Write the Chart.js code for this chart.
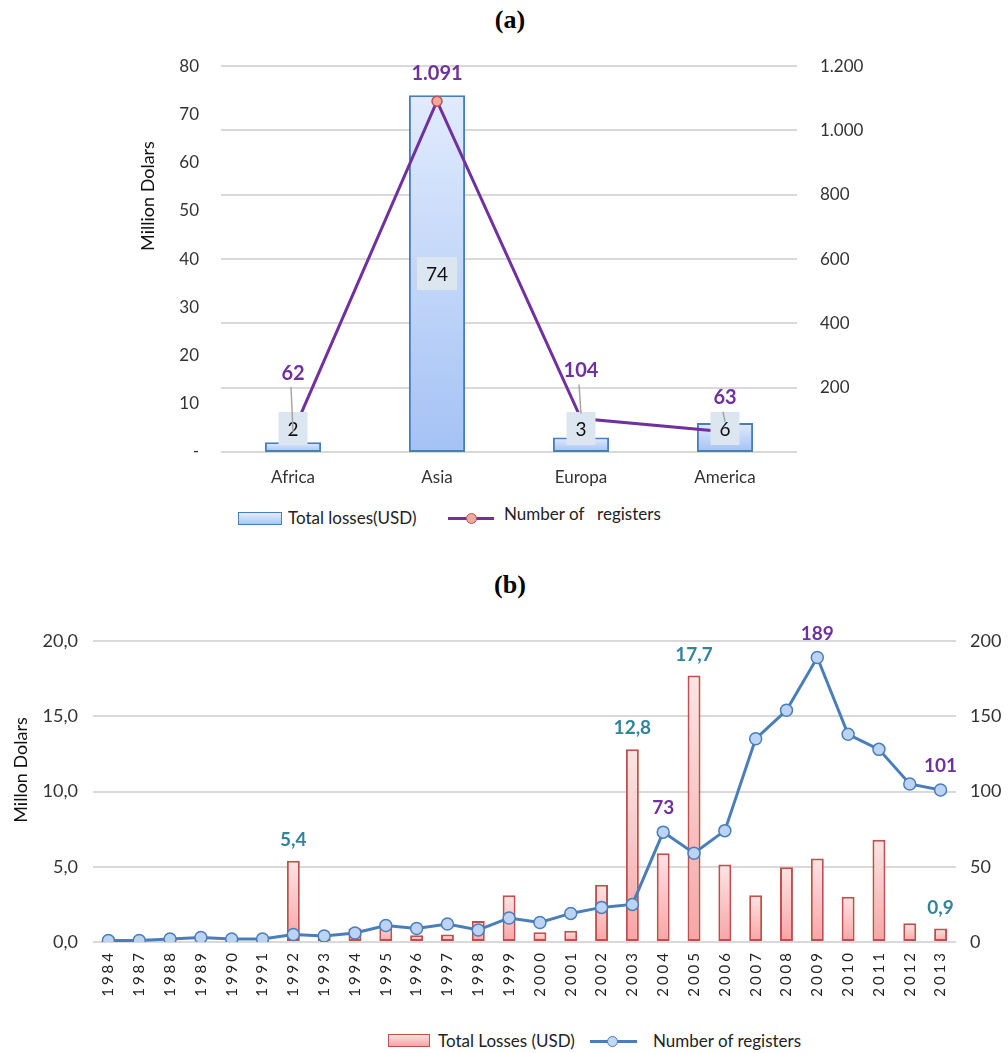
<!DOCTYPE html>
<html>
<head>
<meta charset="utf-8">
<script src="https://cdn.jsdelivr.net/npm/chart.js@4.4.1/dist/chart.umd.min.js"></script>
<style>
  body { margin: 0; background: #fff; width: 1008px; height: 1053px; overflow: hidden; position: relative; font-family: Lato, "Open Sans", sans-serif; }
  .title { position: absolute; left: 0; width: 1008px; text-align: center; font: bold 26px "Liberation Serif", "DejaVu Serif", serif; line-height: 30px; color: #000; }
  .box { position: absolute; }
  .leg { position: absolute; font-size: 17px; color: #222; white-space: pre; line-height: 20px; }
  .swatch { position: absolute; box-sizing: border-box; }
  .lline { position: absolute; height: 3px; }
  .dot { position: absolute; width: 11px; height: 11px; border-radius: 50%; box-sizing: border-box; }
</style>
</head>
<body>
<div class="title" style="top:5px; left:6px">(a)</div>
<div class="box" style="left:0; top:33px; width:1008px; height:467px"><canvas id="chartA" width="1008" height="467"></canvas></div>

<div class="swatch" style="left:238px; top:512px; width:44px; height:13px; border:1.5px solid #4a7ebb; background:linear-gradient(#e3edfd,#a9c6f6)"></div>
<div class="leg" style="left:288px; top:508px">Total losses(USD)</div>
<div class="lline" style="left:448px; top:517px; width:46px; background:#7030a0"></div>
<div class="dot" style="left:466px; top:513px; background:#f4a7a1; border:1.5px solid #c0504d"></div>
<div class="leg" style="left:504px; top:504px">Number of   registers</div>

<div class="title" style="top:570px; left:6px">(b)</div>
<div class="box" style="left:0; top:600px; width:1008px; height:420px"><canvas id="chartB" width="1008" height="420"></canvas></div>

<div class="swatch" style="left:388px; top:1034px; width:42px; height:13px; border:1.5px solid #c0504d; background:linear-gradient(#fde0e0,#f4a4a4)"></div>
<div class="leg" style="left:438px; top:1031px">Total Losses (USD)</div>
<div class="lline" style="left:590px; top:1040px; width:47px; background:#4a7ebb"></div>
<div class="dot" style="left:607px; top:1036px; background:#c5d8f3; border:1.5px solid #4a7ebb"></div>
<div class="leg" style="left:653px; top:1031px">Number of registers</div>

<script>
// chart (a): losses and registers by region
const regions = ['Africa', 'Asia', 'Europa', 'America'];
const regionLosses = [2, 74, 3, 6];
const regionRegisters = [62, 1091, 104, 63];

// chart (b): losses and registers by year
const years = ['1984', '1987', '1988', '1989', '1990', '1991', '1992', '1993', '1994', '1995',
  '1996', '1997', '1998', '1999', '2000', '2001', '2002', '2003', '2004', '2005',
  '2006', '2007', '2008', '2009', '2010', '2011', '2012', '2013'];
const yearLosses = [0.3, 0.1, 0.1, 0.1, 0.1, 0.1, 5.4, 0.2, 0.9, 1.1,
  0.45, 0.5, 1.4, 3.1, 0.65, 0.75, 3.8, 12.8, 5.9, 17.7,
  5.15, 3.1, 4.97, 5.55, 3.0, 6.8, 1.25, 0.9];
const yearRegisters = [1, 1, 2, 3, 2, 2, 5, 4, 6, 11,
  9, 12, 8, 16, 13, 19, 23, 25, 73, 59,
  74, 135, 154, 189, 138, 128, 105, 101];
const lossLabelYears = ['1992', '2003', '2005', '2013'];
const registerLabelYears = ['2004', '2009', '2013'];

const FONT = 'Lato, "Open Sans", sans-serif';
const PURPLE = '#7030a0';
const TEAL = '#31849b';

const fmtThousands = v => String(v).replace(/\B(?=(\d{3})+(?!\d))/g, '.');
const fmtDecimal = v => v.toFixed(1).replace('.', ',');

// per-bar vertical gradient
function barGradient(top, bottom) {
  return function(context) {
    const chart = context.chart;
    if (!chart.chartArea) return bottom;
    const scale = chart.scales[context.dataset.yAxisID];
    const y0 = scale.getPixelForValue(context.raw);
    const y1 = scale.getPixelForValue(0);
    if (y1 - y0 < 1) return bottom;
    const g = chart.ctx.createLinearGradient(0, y0, 0, y1);
    g.addColorStop(0, top);
    g.addColorStop(1, bottom);
    return g;
  };
}

function axisTitle(ctx, text, x, y) {
  ctx.save();
  ctx.translate(x, y);
  ctx.rotate(-Math.PI / 2);
  ctx.font = '18px ' + FONT;
  ctx.fillStyle = '#111';
  ctx.textAlign = 'center';
  ctx.textBaseline = 'middle';
  ctx.fillText(text, 0, 0);
  ctx.restore();
}

// value labels for chart (a)
const labelsA = {
  id: 'labelsA',
  afterDatasetsDraw(chart) {
    const ctx = chart.ctx;
    const lineMeta = chart.getDatasetMeta(0);
    const barMeta = chart.getDatasetMeta(1);
    const lift = [59, 28, 48, 34];
    const leaderEnd = [0, null, 5, 10];

    ctx.save();
    ctx.textAlign = 'center';
    ctx.textBaseline = 'middle';

    // boxed bar labels
    ctx.font = '19px ' + FONT;
    barMeta.data.forEach((el, i) => {
      const txt = String(regionLosses[i]);
      const boxH = 33;
      const boxW = ctx.measureText(txt).width + 18;
      let cy = (el.y + el.base) / 2;
      cy = Math.min(cy, el.base - 7 - boxH / 2);
      ctx.fillStyle = '#dce6f1';
      ctx.fillRect(el.x - boxW / 2, cy - boxH / 2, boxW, boxH);
      ctx.fillStyle = '#111';
      ctx.fillText(txt, el.x, cy + 1);
    });

    // line labels with leader lines
    lineMeta.data.forEach((el, i) => {
      const ly = el.y - lift[i];
      if (leaderEnd[i] !== null) {
        ctx.strokeStyle = '#a6a6a6';
        ctx.lineWidth = 1.5;
        ctx.beginPath();
        ctx.moveTo(el.x - 2, ly + 14);
        ctx.lineTo(el.x, el.y - leaderEnd[i]);
        ctx.stroke();
      }
      ctx.font = 'bold 20px ' + FONT;
      ctx.fillStyle = PURPLE;
      ctx.fillText(fmtThousands(regionRegisters[i]), el.x, ly);
    });
    ctx.restore();

    axisTitle(ctx, 'Million Dolars', 148, 163);
  }
};

// value labels and year labels for chart (b)
const labelsB = {
  id: 'labelsB',
  afterDatasetsDraw(chart) {
    const ctx = chart.ctx;
    const lineMeta = chart.getDatasetMeta(0);
    const barMeta = chart.getDatasetMeta(1);
    ctx.save();
    ctx.textAlign = 'center';
    ctx.textBaseline = 'middle';
    ctx.font = 'bold 19px ' + FONT;
    barMeta.data.forEach((el, i) => {
      if (!lossLabelYears.includes(years[i])) return;
      ctx.fillStyle = TEAL;
      ctx.fillText(fmtDecimal(yearLosses[i]), el.x, el.y - 21);
    });
    lineMeta.data.forEach((el, i) => {
      if (!registerLabelYears.includes(years[i])) return;
      ctx.fillStyle = PURPLE;
      ctx.fillText(String(yearRegisters[i]), el.x, el.y - 24);
    });
    ctx.restore();

    // rotated, widely spaced year labels
    const xs = chart.scales.x;
    ctx.save();
    ctx.font = '15px ' + FONT;
    ctx.fillStyle = '#222';
    ctx.letterSpacing = '3px';
    ctx.textAlign = 'right';
    ctx.textBaseline = 'middle';
    years.forEach((yr, i) => {
      const x = xs.getPixelForTick(i);
      ctx.save();
      ctx.translate(x, xs.top + 8);
      ctx.rotate(-Math.PI / 2);
      ctx.fillText(yr, 0, 0);
      ctx.restore();
    });
    ctx.restore();

    axisTitle(ctx, 'Millon Dolars', 21, 170);
  }
};

const tickFont = { family: FONT, size: 17 };

new Chart(document.getElementById('chartA'), {
  data: {
    labels: regions,
    datasets: [
      {
        type: 'line', label: 'Number of   registers', data: regionRegisters, yAxisID: 'yR', order: 0,
        borderColor: PURPLE, borderWidth: 3, tension: 0,
        pointRadius: 5, pointBackgroundColor: '#f4a7a1', pointBorderColor: '#c0504d', pointBorderWidth: 1.5
      },
      {
        type: 'bar', label: 'Total losses(USD)', data: regionLosses, yAxisID: 'yL', order: 1,
        backgroundColor: barGradient('#e1ebfd', '#a4c2f5'), borderColor: '#4a7ebb', borderWidth: 2,
        borderSkipped: false, barPercentage: 0.39, categoryPercentage: 1
      }
    ]
  },
  options: {
    responsive: false,
    animation: false,
    layout: { padding: { top: 19, left: 0, right: 0, bottom: 0 } },
    plugins: { legend: { display: false }, tooltip: { enabled: false } },
    scales: {
      x: {
        grid: { display: false, drawTicks: false }, border: { display: false },
        ticks: { font: tickFont, color: '#333', padding: 15 },
        afterFit(s) { s.height = 48; }
      },
      yL: {
        position: 'left', min: 0, max: 80,
        grid: { display: false, drawTicks: false }, border: { display: false },
        ticks: { stepSize: 10, font: tickFont, color: '#333', padding: 22, callback: v => v === 0 ? '-' : v },
        afterFit(s) { s.width = 221; }
      },
      yR: {
        position: 'right', min: 0, max: 1200,
        grid: { color: '#d9d9d9', lineWidth: 2, drawTicks: false }, border: { display: false },
        ticks: { stepSize: 200, font: tickFont, color: '#333', padding: 23, callback: v => v === 0 ? '' : fmtThousands(v) },
        afterFit(s) { s.width = 211; }
      }
    }
  },
  plugins: [labelsA]
});

new Chart(document.getElementById('chartB'), {
  data: {
    labels: years,
    datasets: [
      {
        type: 'line', label: 'Number of registers', data: yearRegisters, yAxisID: 'yR', order: 0,
        borderColor: '#4a7ebb', borderWidth: 3, tension: 0,
        pointRadius: 6, pointBackgroundColor: '#bcd3f3', pointBorderColor: '#4a7ebb', pointBorderWidth: 1.5
      },
      {
        type: 'bar', label: 'Total Losses (USD)', data: yearLosses, yAxisID: 'yL', order: 1,
        backgroundColor: barGradient('#fde4e4', '#f7a5a5'), borderColor: '#c0504d', borderWidth: 2,
        borderSkipped: false, barPercentage: 0.42, categoryPercentage: 1
      }
    ]
  },
  options: {
    responsive: false,
    animation: false,
    layout: { padding: { top: 41, left: 0, right: 0, bottom: 0 } },
    plugins: { legend: { display: false }, tooltip: { enabled: false } },
    scales: {
      x: {
        grid: { display: false, drawTicks: false }, border: { display: false },
        ticks: { font: { family: FONT, size: 15 }, color: 'rgba(0,0,0,0)', padding: 8, minRotation: 90, maxRotation: 90, autoSkip: false },
        afterFit(s) { s.height = 78; }
      },
      yL: {
        position: 'left', min: 0, max: 20,
        grid: { color: '#d9d9d9', lineWidth: 2, drawTicks: false }, border: { display: false },
        ticks: { stepSize: 5, font: { family: FONT, size: 18 }, color: '#333', padding: 15, callback: v => fmtDecimal(v) },
        afterFit(s) { s.width = 93; }
      },
      yR: {
        position: 'right', min: 0, max: 200,
        grid: { display: false, drawTicks: false }, border: { display: false },
        ticks: { stepSize: 50, font: { family: FONT, size: 18 }, color: '#333', padding: 14 },
        afterFit(s) { s.width = 52; }
      }
    }
  },
  plugins: [labelsB]
});
</script>
</body>
</html>
